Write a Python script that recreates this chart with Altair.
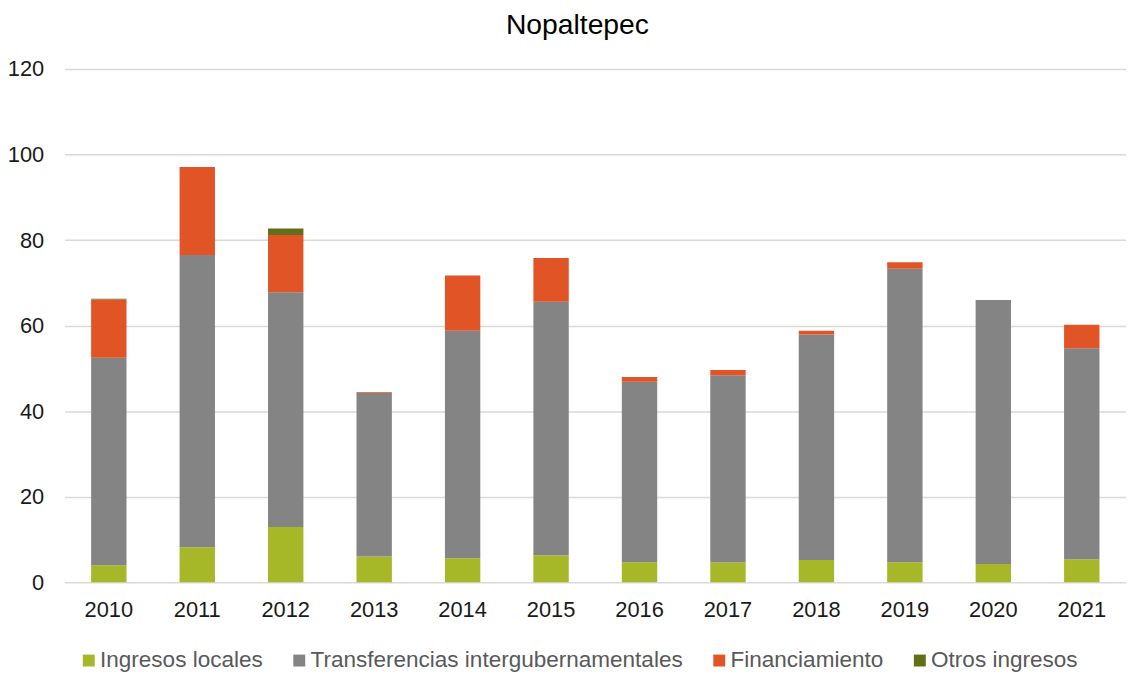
import altair as alt
import pandas as pd

years = ["2010", "2011", "2012", "2013", "2014", "2015", "2016", "2017", "2018", "2019", "2020", "2021"]
ingresos_locales = [4.0, 8.2, 12.9, 6.0, 5.6, 6.3, 4.7, 4.6, 5.2, 4.7, 4.3, 5.4]
transferencias = [48.5, 68.3, 54.9, 38.3, 53.2, 59.3, 42.2, 43.8, 52.7, 68.6, 61.7, 49.3]
financiamiento = [13.6, 20.6, 13.4, 0.2, 12.9, 10.2, 1.1, 1.2, 0.9, 1.5, 0.0, 5.5]
otros_ingresos = [0.2, 0.0, 1.5, 0.0, 0.0, 0.0, 0.0, 0.0, 0.0, 0.0, 0.0, 0.0]

series_names = ["Ingresos locales", "Transferencias intergubernamentales", "Financiamiento", "Otros ingresos"]
series_colors = ["#A6B728", "#848484", "#E05426", "#636E17"]
y_ticks = [0, 20, 40, 60, 80, 100, 120]

rows = []
for si, (name, vals) in enumerate(zip(series_names, [ingresos_locales, transferencias, financiamiento, otros_ingresos])):
    for y, v in zip(years, vals):
        rows.append({"year": y, "serie": name, "valor": v, "orden": si})
df = pd.DataFrame(rows)

FONT = "Liberation Sans"

chart = alt.Chart(df).mark_bar().encode(
    x=alt.X("year:N", sort=years, title=None,
            scale=alt.Scale(paddingInner=0.6, paddingOuter=0.3),
            axis=alt.Axis(labelAngle=0, domain=False, ticks=False, labelPadding=17,
                          labelFontSize=22, labelColor="#1a1a1a", labelFont=FONT)),
    y=alt.Y("valor:Q", stack="zero", title=None,
            scale=alt.Scale(domain=[0, 120], nice=False),
            axis=alt.Axis(values=y_ticks, domain=False, ticks=False, labelPadding=21,
                          labelFontSize=22, labelColor="#1a1a1a", labelFont=FONT,
                          gridColor="#d9d9d9", gridWidth=1.5)),
    color=alt.Color("serie:N", sort=series_names,
                    scale=alt.Scale(domain=series_names, range=series_colors),
                    legend=alt.Legend(title=None, orient="none", direction="horizontal",
                                      legendX=13, legendY=584, padding=0,
                                      symbolType="square", symbolSize=144,
                                      symbolStrokeWidth=0, symbolOffset=0,
                                      labelFontSize=22.7, labelFont=FONT, labelColor="#595959",
                                      labelOffset=0, labelLimit=600, columnPadding=25)),
    order=alt.Order("orden:Q", sort="ascending"),
).properties(
    width=1069,
    height=517,
    autosize=alt.AutoSizeParams(type="none"),
    padding={"left": 57, "top": 59, "right": 0, "bottom": 90},
    title=alt.TitleParams("Nopaltepec", fontSize=28.5, font=FONT, fontWeight="normal",
                          color="#000000", anchor="middle", offset=19, dx=-18),
).configure_view(stroke=None)

chart.save("out.html", embed_options={"renderer": "svg", "actions": False})
